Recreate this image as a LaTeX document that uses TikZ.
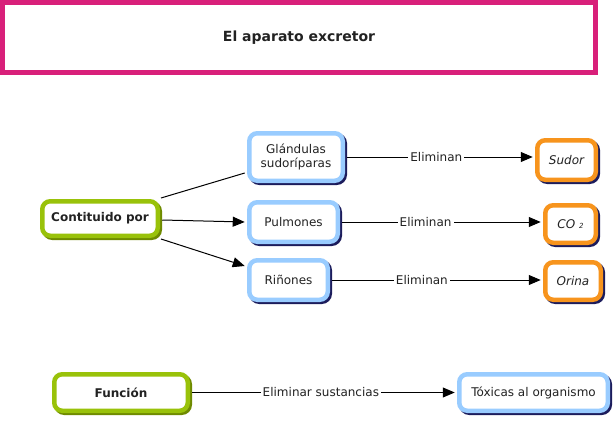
\documentclass[tikz,border=0pt]{standalone}
\usepackage{fontspec}
\setmainfont{DejaVu Sans}
\usetikzlibrary{arrows.meta,shadows,calc}
\definecolor{pinkc}{HTML}{D8207A}
\definecolor{greenc}{HTML}{99C20A}
\definecolor{greensh}{HTML}{6E8A00}
\definecolor{bluec}{HTML}{99CCFF}
\definecolor{orangec}{HTML}{F7941D}
\definecolor{navysh}{HTML}{1C1C5C}
\definecolor{textc}{HTML}{222222}
\tikzset{
  box/.style={draw, fill=white, line width=4.5pt, rounded corners=8pt, inner sep=0pt, align=center,
    font=\fontsize{12}{14}\selectfont, text=textc},
  gbox/.style={box, draw=greenc, font=\fontsize{12}{14}\selectfont\bfseries,
    drop shadow={shadow xshift=2pt, shadow yshift=-2pt, fill=greensh, draw=greensh, line width=4.5pt, opacity=1}},
  bbox/.style={box, draw=bluec,
    drop shadow={shadow xshift=2pt, shadow yshift=-2pt, fill=navysh, draw=navysh, line width=4.5pt, opacity=1}},
  obox/.style={box, draw=orangec, font=\fontsize{12}{14}\selectfont\itshape,
    drop shadow={shadow xshift=2pt, shadow yshift=-2pt, fill=navysh, draw=navysh, line width=4.5pt, opacity=1}},
  conn/.style={line width=1pt, draw=black},
  arr/.style={conn, -{Triangle[length=12pt,width=10pt]}},
  lab/.style={fill=white, inner sep=2pt, font=\fontsize{12}{14}\selectfont, text=textc},
}
\begin{document}
\begin{tikzpicture}[x=1pt,y=-1pt]
\useasboundingbox (0,0) rectangle (615,420);
% title
\node[draw=pinkc, fill=white, line width=5pt, minimum width=593pt, minimum height=70pt, inner sep=0pt,
  drop shadow={shadow xshift=2pt, shadow yshift=-2pt, fill=black!15, opacity=1},
  font=\fontsize{14}{16}\selectfont\bfseries, text=textc] (title) at (299,37.5) {El aparato excretor};
% nodes
\node[gbox, minimum width=115.5pt, minimum height=34.5pt] (cont) at (100,218.5) {Contituido por};
\node[bbox, minimum width=93.5pt, minimum height=47.5pt] (gland) at (296,157) {Glándulas\\sudoríparas};
\node[bbox, minimum width=88.5pt, minimum height=39.5pt] (pulm) at (293.5,222) {Pulmones};
\node[bbox, minimum width=78.5pt, minimum height=39.5pt] (rin) at (288.5,280) {Riñones};
\node[obox, minimum width=58.5pt, minimum height=39.5pt] (sudor) at (566.5,160) {Sudor};
\node[obox, minimum width=50.5pt, minimum height=37.5pt] (co2) at (570.5,224) {CO {\fontsize{7}{8}\selectfont 2}};
\node[obox, minimum width=55.5pt, minimum height=37.5pt] (orina) at (573,281) {Orina};
\node[gbox, minimum width=133.5pt, minimum height=36.5pt] (func) at (121,392.5) {Función};
\node[bbox, minimum width=148.5pt, minimum height=36.5pt] (tox) at (533.5,392.5) {Tóxicas al organismo};
% connectors
\draw[conn] ([xshift=1pt,yshift=1pt]cont.north east) -- ([xshift=-2.25pt,yshift=-16pt]gland.west);
\draw[arr] ([xshift=2.25pt,yshift=-1.5pt]cont.east) -- ([xshift=-2.25pt]pulm.west);
\draw[arr] ([xshift=1pt,yshift=-1pt]cont.south east) -- ([xshift=-2.25pt,yshift=14pt]rin.west);
\draw[arr] ([xshift=2.25pt]gland.east) -- node[lab, pos=0.48]{Eliminan} ([xshift=-2.25pt]gland.east -| sudor.west);
\draw[arr] ([xshift=2.25pt]pulm.east) -- node[lab, pos=0.42]{Eliminan} ([xshift=-2.25pt]pulm.east -| co2.west);
\draw[arr] ([xshift=2.25pt]rin.east) -- node[lab, pos=0.43]{Eliminan} ([xshift=-2.25pt]rin.east -| orina.west);
\draw[arr] ([xshift=2.25pt]func.east) -- node[lab, pos=0.49]{Eliminar sustancias} ([xshift=-2.25pt]tox.west);
\end{tikzpicture}
\end{document}
